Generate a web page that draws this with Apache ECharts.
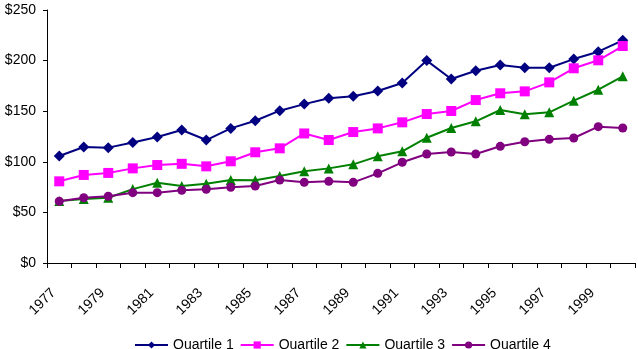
<!DOCTYPE html>
<html><head><meta charset="utf-8">
<script src="https://cdn.jsdelivr.net/npm/echarts@6/dist/echarts.min.js"></script>
<style>html,body{margin:0;padding:0;background:#fff}#c{width:638px;height:349px}</style>
</head><body><div id="c"></div>
<script>
var years = ["1977","1978","1979","1980","1981","1982","1983","1984","1985","1986","1987","1988","1989","1990","1991","1992","1993","1994","1995","1996","1997","1998","1999","2000"];
var quartile1 = [105.7,114.6,114,119,124.5,131.4,121.5,133,140.6,150.5,157,162.7,164.7,170,177.8,200,181.8,190,195.6,193,193,201.5,208.8,220];
var quartile2 = [80.7,87,89,93.5,96.8,98,95.5,100.5,109.4,113.3,128,121.5,129.4,133,139,147.2,150.2,161,167.7,169.6,178.5,192.4,200.3,214.4];
var quartile3 = [61.3,63.2,64.5,73,79.3,76,78.4,82,81.7,86,90.6,93.5,97.5,105.4,110.4,123.8,133.4,140,151.2,147,148.9,160.4,171.2,184.5];
var quartile4 = [61,64.5,66,69.5,69.5,71.8,72.8,74.8,76,82,79.7,80.7,79.7,88.6,99.5,107.7,109.7,107.7,115.3,119.8,122.2,123.5,134.7,133.4];
var seriesNames = ["Quartile 1","Quartile 2","Quartile 3","Quartile 4"];
var colors = ["#000080","#FF00FF","#008000","#800080"];
var symbols = ["diamond","rect","triangle","circle"];
var symbolSizes = [11,10,10,9];
var data = [quartile1, quartile2, quartile3, quartile4];

var font = "'Liberation Sans', Arial, sans-serif";
var chart = echarts.init(document.getElementById('c'), null, {renderer:'canvas'});
chart.setOption({
  animation:false,
  backgroundColor:'#fff',
  textStyle:{fontFamily:font},
  grid:{left:47,right:3,top:10,bottom:86,containLabel:false},
  legend:{
    top:333, left:129,
    itemWidth:33, itemHeight:9, itemGap:6,
    textStyle:{fontFamily:font,fontSize:14,color:'#000'},
    data:seriesNames
  },
  xAxis:{
    type:'category', data:years, boundaryGap:true,
    axisLine:{lineStyle:{color:'#000',width:1}},
    axisTick:{show:true,interval:0,alignWithLabel:false,length:5,lineStyle:{color:'#000'}},
    axisLabel:{interval:1,rotate:45,fontFamily:font,fontSize:14,color:'#000',margin:22,padding:[0,8,0,0]}
  },
  yAxis:{
    type:'value', min:0, max:250, interval:50,
    axisLine:{show:true,lineStyle:{color:'#000',width:1}},
    axisTick:{show:true,length:4,lineStyle:{color:'#000'}},
    splitLine:{show:false},
    axisLabel:{formatter:function(v){return '$'+v;},fontFamily:font,fontSize:14,color:'#000',margin:11}
  },
  series:data.map(function(d,i){
    return {
      name:seriesNames[i], type:'line', data:d,
      symbol:symbols[i], symbolSize:symbolSizes[i], showAllSymbol:true,
      itemStyle:{color:colors[i]},
      lineStyle:{color:colors[i],width:2}
    };
  })
});
</script></body></html>
